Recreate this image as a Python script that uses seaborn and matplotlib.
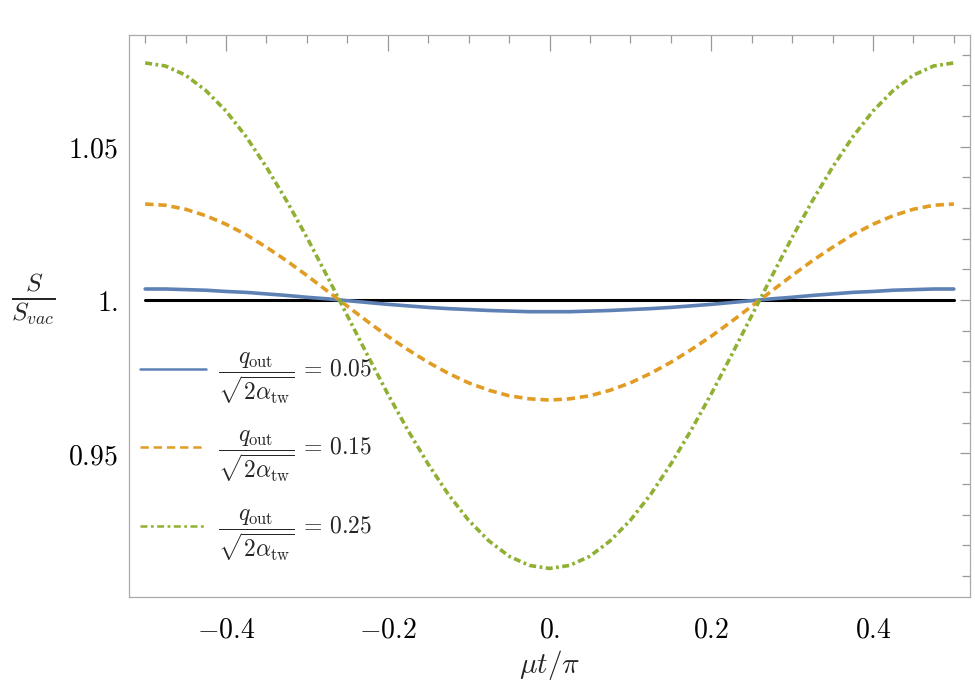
import numpy as np
import pandas as pd
import matplotlib
matplotlib.use("Agg")
import matplotlib.pyplot as plt
import seaborn as sns

# x values (mu t / pi)
mu_t = [-0.5, -0.475, -0.45, -0.425, -0.4, -0.375, -0.35, -0.325, -0.3, -0.275,
        -0.25, -0.225, -0.2, -0.175, -0.15, -0.125, -0.1, -0.075, -0.05, -0.025,
        0.0, 0.025, 0.05, 0.075, 0.1, 0.125, 0.15, 0.175, 0.2, 0.225,
        0.25, 0.275, 0.3, 0.325, 0.35, 0.375, 0.4, 0.425, 0.45, 0.475, 0.5]

# S / S_vac
s_005 = [1.0036, 1.0036, 1.0034, 1.0032, 1.0028, 1.0025, 1.0020, 1.0015, 1.0009, 1.0004,
         0.9998, 0.9992, 0.9986, 0.9981, 0.9976, 0.9972, 0.9969, 0.9966, 0.9964, 0.9962,
         0.9962, 0.9962, 0.9964, 0.9966, 0.9969, 0.9972, 0.9976, 0.9981, 0.9986, 0.9992,
         0.9998, 1.0004, 1.0009, 1.0015, 1.0020, 1.0025, 1.0028, 1.0032, 1.0034, 1.0036, 1.0036]
s_015 = [1.0313, 1.0309, 1.0296, 1.0275, 1.0247, 1.0213, 1.0172, 1.0128, 1.0080, 1.0030,
         0.9980, 0.9930, 0.9882, 0.9838, 0.9797, 0.9761, 0.9730, 0.9706, 0.9688, 0.9678,
         0.9674, 0.9678, 0.9688, 0.9706, 0.9730, 0.9761, 0.9797, 0.9838, 0.9882, 0.9930,
         0.9980, 1.0030, 1.0080, 1.0128, 1.0172, 1.0213, 1.0247, 1.0275, 1.0296, 1.0309, 1.0313]
s_025 = [1.0773, 1.0763, 1.0733, 1.0683, 1.0616, 1.0532, 1.0433, 1.0323, 1.0204, 1.0078,
         0.9949, 0.9820, 0.9694, 0.9575, 0.9465, 0.9366, 0.9282, 0.9215, 0.9165, 0.9135,
         0.9125, 0.9135, 0.9165, 0.9215, 0.9282, 0.9366, 0.9465, 0.9575, 0.9694, 0.9820,
         0.9949, 1.0078, 1.0204, 1.0323, 1.0433, 1.0532, 1.0616, 1.0683, 1.0733, 1.0763, 1.0773]
vac_x = [-0.5, 0.5]
vac_y = [1.0, 1.0]

labels = [r"$\dfrac{q_{\rm out}}{\sqrt{2\alpha_{\rm tw}}}\,=\,0.05$",
          r"$\dfrac{q_{\rm out}}{\sqrt{2\alpha_{\rm tw}}}\,=\,0.15$",
          r"$\dfrac{q_{\rm out}}{\sqrt{2\alpha_{\rm tw}}}\,=\,0.25$"]

sns.set_style("white")
plt.rcParams["mathtext.fontset"] = "cm"
plt.rcParams["lines.scale_dashes"] = False

fig = plt.figure(figsize=(9.75, 6.92), dpi=100)
ax = fig.add_axes([129 / 975, 1 - 597 / 692, 841 / 975, 562 / 692])

# vacuum reference line
sns.lineplot(x=vac_x, y=vac_y, color="black", linewidth=2.2, ax=ax)
sns.lineplot(x=mu_t, y=s_005, color="#5E81B5", linewidth=2.6, ax=ax, label=labels[0])
sns.lineplot(x=mu_t, y=s_015, color="#E19C24", linewidth=2.6, ax=ax, label=labels[1])
sns.lineplot(x=mu_t, y=s_025, color="#8FB032", linewidth=2.6, ax=ax, label=labels[2])
lines = ax.get_lines()
lines[2].set_dashes([6, 3.5])
lines[3].set_dashes([5, 2.5, 2, 2.5])

ax.set_xlim(-0.52, 0.52)
ax.set_ylim(0.9032, 1.0864)

ax.set_xticks([-0.4, -0.2, 0.0, 0.2, 0.4])
ax.set_xticklabels([r"$-0.4$", r"$-0.2$", r"$0.$", r"$0.2$", r"$0.4$"])
ax.set_xticks(np.arange(-0.5, 0.51, 0.05), minor=True)
ax.set_yticks([0.95, 1.0, 1.05])
ax.set_yticklabels([r"$0.95$", r"$1.$", r"$1.05$"])
ax.set_yticks(np.arange(0.91, 1.081, 0.01), minor=True)

ax.tick_params(axis="both", which="both", direction="in", colors="#999999",
               labelcolor="black", labelsize=20, top=True, right=True, width=0.9)
ax.tick_params(axis="x", which="major", length=11.5, pad=13)
ax.tick_params(axis="x", which="minor", length=5.8)
ax.tick_params(axis="y", which="major", length=7.5, pad=8)
ax.tick_params(axis="y", which="minor", length=5.5)
for sp in ax.spines.values():
    sp.set_color("#aaaaaa")
    sp.set_linewidth(0.9)

ax.set_xlabel("")
ax.set_ylabel("")
fig.text(550 / 975, 1 - 665 / 692, r"$\mu t/\pi$", fontsize=21,
         ha="center", va="center")
fig.text(33 / 975, 1 - 300 / 692, r"$\frac{S}{S_{vac}}$", fontsize=26,
         ha="center", va="center")

leg = ax.legend(loc="upper left", bbox_to_anchor=(140 / 975, 1 - 350 / 692),
                bbox_transform=fig.transFigure, frameon=False, fontsize=17,
                handlelength=2.8, labelspacing=0.95, borderaxespad=0,
                borderpad=0, handletextpad=0.5)
for h in leg.get_lines():
    h.set_linewidth(1.8)

fig.savefig("out.png", dpi=100)
